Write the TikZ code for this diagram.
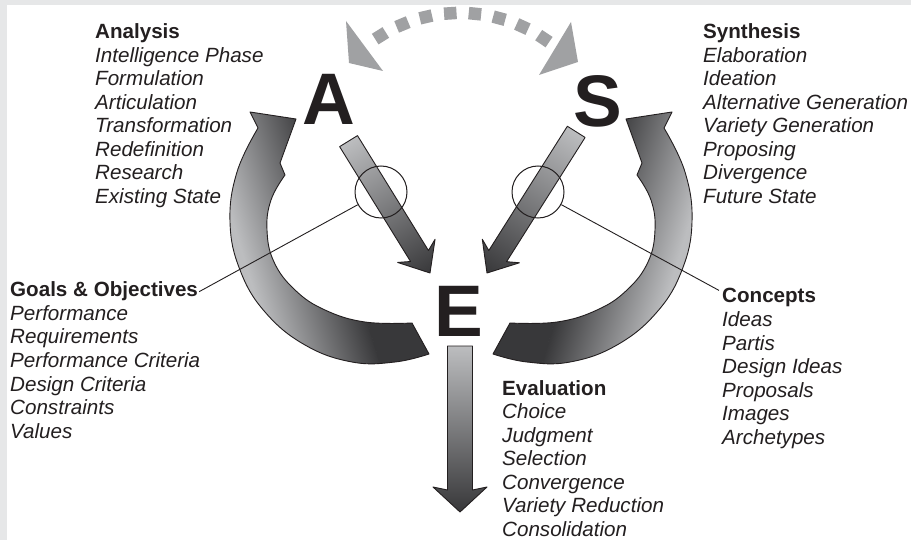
\documentclass[tikz,border=0pt]{standalone}
\usepackage{fontspec}
\setmainfont{Liberation Sans}
\usetikzlibrary{calc}
\definecolor{txt}{HTML}{231F20}
\definecolor{bgband}{HTML}{E6E7E8}
\definecolor{dotgray}{HTML}{A0A1A3}
\definecolor{lightg}{HTML}{BCBDBF}
\definecolor{darkg}{HTML}{38383A}
\newcommand{\arcpath}[1]{({#1296},119) -- ({#1280},163) -- ({#1285},175)
 -- plot[smooth, tension=0.7] coordinates {({#1285},175) ({#1271},200) ({#1267},230) ({#1274},262) ({#1295},290) ({#1325},310) ({#1365},322) ({#1412},323)}
 -- ({#1429},354)
 -- plot[smooth, tension=0.7] coordinates {({#1429},354) ({#1395},362) ({#1352},362) ({#1305},345) ({#1265},312) ({#1240},270) ({#1230},222) ({#1237},172) ({#1258},128)}
 -- ({#1250},112) -- cycle}
\begin{document}
\begin{tikzpicture}[x=1pt,y=-1pt,
  item/.style={anchor=base west, inner sep=0pt, font=\fontsize{20.6}{24}\selectfont\itshape, text=txt},
  head/.style={anchor=base west, inner sep=0pt, font=\fontsize{20.6}{24}\selectfont\bfseries, text=txt},
  bigletter/.style={anchor=base, inner sep=0pt, font=\fontsize{73}{73}\selectfont\bfseries, text=txt},
  outline/.style={draw=txt, line width=0.9pt, line join=round},
  lens/.style={circle, draw=txt, line width=1pt, minimum size=52pt, inner sep=0pt},
  leader/.style={draw=txt, line width=0.9pt},
  dot/.style={fill=dotgray, minimum size=12.5pt, inner sep=0pt},
]
\useasboundingbox (0,0) rectangle (911,540);
\fill[bgband] (0,0) rectangle (911,540);
\fill[white] (7,5) rectangle (911,540);

% left curved arrow
\begin{scope}
  \clip \arcpath{};
  \begin{scope}[transform canvas={rotate around={17:(232,220)}}]
    \fill[lightg] (-400,-400) rectangle (232.5,900);
    \shade[left color=lightg, right color=darkg] (232,-400) rectangle (332,900);
    \fill[darkg] (331.5,-400) rectangle (1400,900);
  \end{scope}
\end{scope}
\draw[outline] \arcpath{};

% right curved arrow
\begin{scope}
  \clip \arcpath{922-};
  \begin{scope}[transform canvas={rotate around={-17:(690,220)}}]
    \fill[lightg] (689.5,-400) rectangle (1500,900);
    \shade[left color=darkg, right color=lightg] (590,-400) rectangle (690,900);
    \fill[darkg] (-500,-400) rectangle (590.5,900);
  \end{scope}
\end{scope}
\draw[outline] \arcpath{922-};

% straight arrows
\begin{scope}[transform canvas={shift={(430,273)}, rotate=-58.3}]
  \shade[left color=lightg, right color=darkg, outline] (0,0) -- (-26,-22) -- (-20,-10.5) -- (-155,-10.5) -- (-155,10.5) -- (-20,10.5) -- (-26,22) -- cycle;
\end{scope}
\begin{scope}[transform canvas={shift={(487,273)}, rotate=-122.3}]
  \shade[left color=lightg, right color=darkg, outline] (0,0) -- (-26,-22) -- (-20,-10.5) -- (-167,-10.5) -- (-167,10.5) -- (-20,10.5) -- (-26,22) -- cycle;
\end{scope}
\begin{scope}[transform canvas={shift={(460,512)}, rotate=-90}]
  \shade[left color=lightg, right color=darkg, outline] (0,0) -- (-25,-27) -- (-22,-12.5) -- (-166,-12.5) -- (-166,12.5) -- (-22,12.5) -- (-25,27) -- cycle;
\end{scope}

% lenses
\node[lens] (lA) at (381,192) {};
\node[lens] (lS) at (538,192) {};

% big letters
\node[bigletter] (A) at (329,125) {A};
\node[bigletter] (S) at (598,127) {S};
\node[bigletter] (E) at (459,336) {E};

% dotted arc
\foreach \k in {0,...,7} {
  \pgfmathsetmacro{\a}{-122+\k*66/7}
  \node[dot, rotate={-\a}] (d\k) at ([shift={(\a:150)}]460,163) {};
}
\fill[dotgray] (346,21) -- (349,63) -- (383,71) -- cycle;
\fill[dotgray] (571,22) -- (578,62) -- (539,75) -- cycle;

% text blocks
\node[head] (anH) at (95,39) {Analysis};
\foreach \t [count=\i] in {Intelligence Phase,Formulation,Articulation,Transformation,Redefinition,Research,Existing State}
  \node[item] (an\i) at (95,39+23.5*\i) {\t};

\node[head] (syH) at (703,39) {Synthesis};
\foreach \t [count=\i] in {Elaboration,Ideation,Alternative Generation,Variety Generation,Proposing,Divergence,Future State}
  \node[item] (sy\i) at (703,39+23.5*\i) {\t};

\node[head] (gh) at (10,297) {Goals \& Objectives};
\foreach \t [count=\i] in {Performance,Requirements,Performance Criteria,Design Criteria,Constraints,Values}
  \node[item] (go\i) at (10,297+23.5*\i) {\t};

\node[head] (ch) at (722,303) {Concepts};
\foreach \t [count=\i] in {Ideas,Partis,Design Ideas,Proposals,Images,Archetypes}
  \node[item] (co\i) at (722,303+23.5*\i) {\t};

\node[head] (ev) at (502,395) {Evaluation};
\foreach \t [count=\i] in {Choice,Judgment,Selection,Convergence,Variety Reduction,Consolidation}
  \node[item] (ev\i) at (502,395+23.5*\i) {\t};

\draw[leader] (lA) -- ([xshift=1pt]gh.east);
\draw[leader] (lS) -- ([shift={(-3,2)}]ch.north west);
\end{tikzpicture}
\end{document}
